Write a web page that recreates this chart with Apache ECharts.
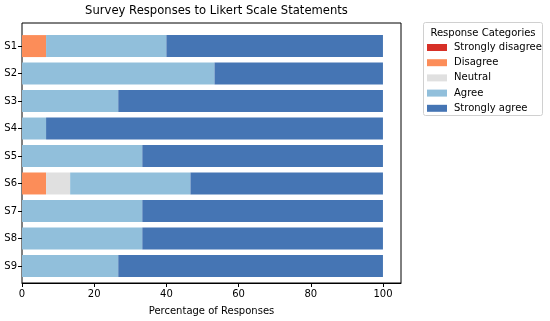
<!DOCTYPE html>
<html>
<head>
<meta charset="utf-8">
<script src="https://cdn.jsdelivr.net/npm/echarts@6/dist/echarts.min.js"></script>
<style>html,body{margin:0;padding:0;background:#fff}#c{width:550px;height:321px}</style>
</head>
<body>
<div id="c"></div>
<script>
var statements = ['S1','S2','S3','S4','S5','S6','S7','S8','S9'];
var responseCategories = ['Strongly disagree','Disagree','Neutral','Agree','Strongly agree'];
var stronglyDisagree = [0, 0, 0, 0, 0, 0, 0, 0, 0];
var disagree =         [6.67, 0, 0, 0, 0, 6.67, 0, 0, 0];
var neutral =          [0, 0, 0, 0, 0, 6.67, 0, 0, 0];
var agree =            [33.33, 53.33, 26.67, 6.67, 33.33, 33.33, 33.33, 33.33, 26.67];
var stronglyAgree =    [60, 46.67, 73.33, 93.33, 66.67, 53.33, 66.67, 66.67, 73.33];
var xTicks = [0, 20, 40, 60, 80, 100];

var colors = ['#d73027','#fc8d59','#e0e0e0','#91bfdb','#4575b4'];
var seriesData = [stronglyDisagree, disagree, neutral, agree, stronglyAgree];

var chart = echarts.init(document.getElementById('c'));
var font = 'DejaVu Sans';
var plotL = 22, plotR = 401, plotT = 23, plotB = 289;
var unit = (plotB - plotT) / 9.68;
var innerT = plotT + 0.34 * unit;
var innerH = 9 * unit;

var series = responseCategories.map(function (name, i) {
  return {
    name: name, type: 'bar', stack: 'total',
    xAxisIndex: 1, yAxisIndex: 1,
    barWidth: 0.8 * unit,
    itemStyle: { color: colors[i] },
    data: seriesData[i]
  };
});

chart.setOption({
  animation: false,
  textStyle: { fontFamily: font },
  title: {
    text: 'Survey Responses to Likert Scale Statements',
    left: (plotL + plotR) / 2, top: 0, textAlign: 'center',
    textStyle: { fontFamily: font, fontSize: 11.6, fontWeight: 'normal', color: '#000' }
  },
  grid: [
    { left: plotL, top: plotT, width: plotR - plotL, height: plotB - plotT, show: true, borderColor: '#000', borderWidth: 1, backgroundColor: 'transparent' },
    { left: plotL, top: innerT, width: plotR - plotL, height: innerH }
  ],
  xAxis: [
    { gridIndex: 0, type: 'value', min: 0, max: 105,
      axisLine: { show: true, lineStyle: { color: '#000' } },
      axisTick: { show: true, length: 4, customValues: xTicks, lineStyle: { color: '#000' } },
      axisLabel: { fontSize: 10, color: '#000', fontFamily: font, margin: 6, customValues: xTicks },
      splitLine: { show: false },
      name: 'Percentage of Responses', nameLocation: 'middle', nameGap: 23,
      nameTextStyle: { fontSize: 10, color: '#000', fontFamily: font } },
    { gridIndex: 1, type: 'value', min: 0, max: 105, show: false, splitLine: { show: false } }
  ],
  yAxis: [
    { gridIndex: 0, type: 'value', min: 0, max: 1, show: false, splitLine: { show: false } },
    { gridIndex: 1, type: 'category', inverse: true, data: statements,
      axisLine: { show: false },
      axisTick: { show: true, alignWithLabel: true, length: 4, lineStyle: { color: '#000' } },
      axisLabel: { fontSize: 10, color: '#000', fontFamily: font, margin: 5 } }
  ],
  legend: {
    orient: 'vertical', left: 427, top: 42.5, padding: 0,
    itemWidth: 20, itemHeight: 7, itemGap: 5.2,
    icon: 'rect',
    data: responseCategories,
    textStyle: { fontSize: 10, color: '#000', fontFamily: font, padding: [0, 0, 0, 2] }
  },
  graphic: [
    { type: 'rect', shape: { x: 423.5, y: 22.5, width: 119, height: 93, r: 2 },
      style: { fill: '#fff', stroke: '#d0d0d0', lineWidth: 1 }, z: -1 },
    { type: 'text', x: 483, y: 28, style: { text: 'Response Categories', fontSize: 10, fontFamily: font, fill: '#000', textAlign: 'center' } }
  ],
  series: series
});
</script>
</body>
</html>
